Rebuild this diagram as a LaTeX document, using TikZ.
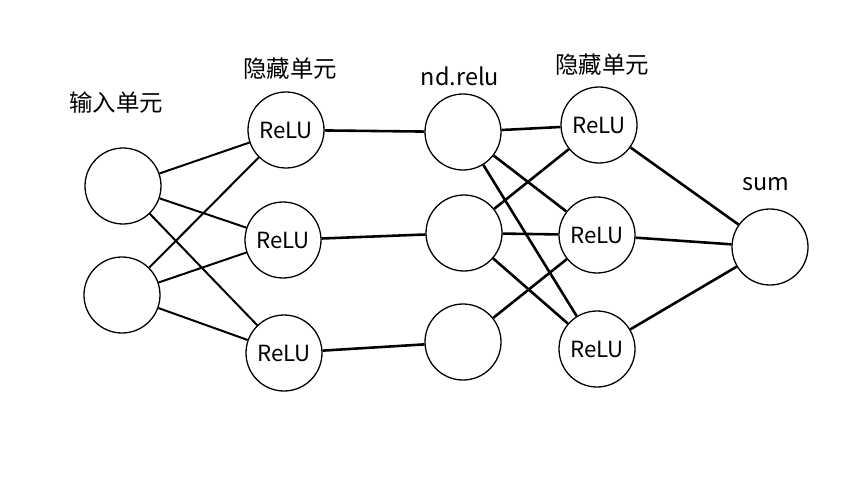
\documentclass[tikz,border=0pt]{standalone}
\usepackage{fontspec}
\setmainfont{Noto Sans CJK SC}

\begin{document}
\begin{tikzpicture}[x=0.03cm,y=-0.03cm,
  unit/.style={circle,draw,line width=1.1pt,minimum size=2.28cm,inner sep=0pt,font=\fontsize{19}{22}\selectfont},
  title/.style={font=\fontsize{20}{24}\selectfont},
  link/.style={line width=2.2pt},
  thinlink/.style={line width=1.7pt}]
\useasboundingbox (0,0) rectangle (847,477);

 % layers
 \node[unit] (in1) at (123,186) {};
 \node[unit] (in2) at (122,295) {};

 \node[unit] (h1) at (286,130) {ReLU};
 \node[unit] (h2) at (283,240) {ReLU};
 \node[unit] (h3) at (284,353) {ReLU};

 \node[unit] (nd1) at (463,132) {};
 \node[unit] (nd2) at (464,233) {};
 \node[unit] (nd3) at (463,342) {};

 \node[unit] (r1) at (599,125) {ReLU};
 \node[unit] (r2) at (597,235) {ReLU};
 \node[unit] (r3) at (597,349) {ReLU};

 \node[unit] (sum) at (770,247) {};

 % titles
 \node[title] (tin) at (116,103) {输入单元};
 \node[title] (th) at (290,69) {隐藏单元};
 \node[title] (tnd) at (460,76) {nd.relu};
 \node[title] (tr) at (602,65) {隐藏单元};
 \node[title] (tsum) at (766,184) {sum};

 % input -> relu
 \foreach \i in {in1,in2}
  \foreach \j in {h1,h2,h3}
   \draw[thinlink] (\i)--(\j);

 % relu -> nd.relu
 \draw[link] (h1)--(nd1);
 \draw[link] (h2)--(nd2);
 \draw[link] (h3)--(nd3);

 % nd.relu -> relu
 \foreach \i in {nd1,nd2}
  \foreach \j in {r1,r2,r3}
   \draw[link] (\i)--(\j);
 \draw[link] (nd3)--(r2);

 % relu -> sum
 \foreach \j in {r1,r2,r3}
  \draw[link] (\j)--(sum);
\end{tikzpicture}
\end{document}
